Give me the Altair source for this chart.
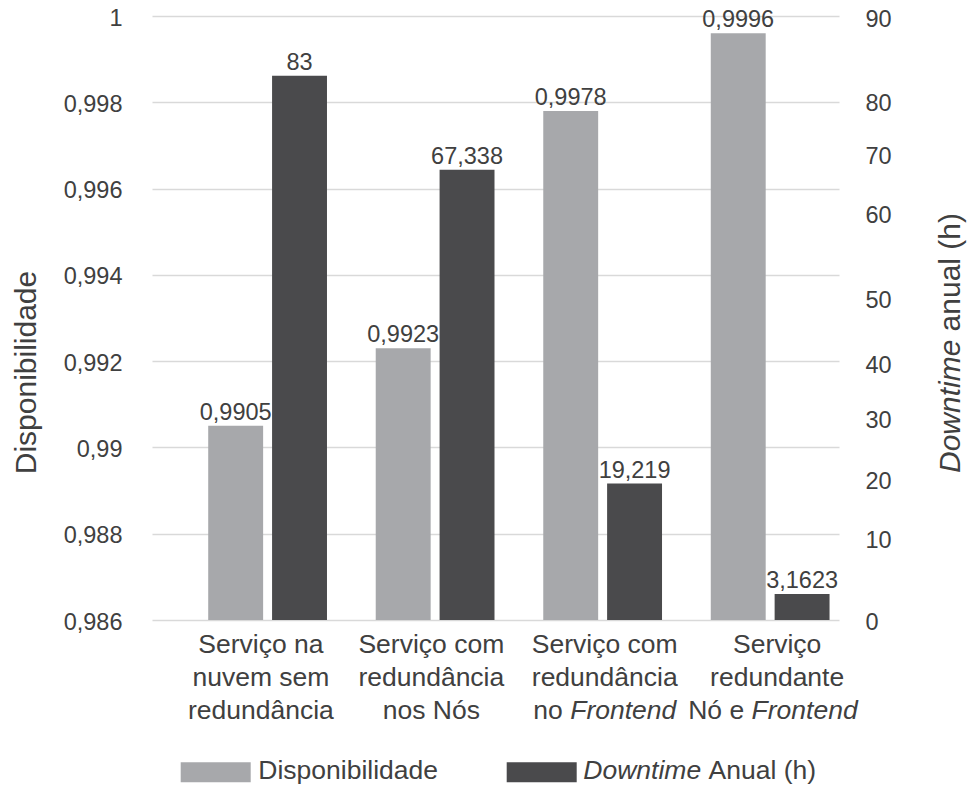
import altair as alt
import pandas as pd

# ---- data -------------------------------------------------------------
categorias = [
    "Serviço na nuvem sem redundância",
    "Serviço com redundância nos Nós",
    "Serviço com redundância no Frontend",
    "Serviço redundante Nó e Frontend",
]
series = ["Disponibilidade", "Downtime Anual (h)"]
disponibilidade = [0.9905, 0.9923, 0.9978, 0.9996]
downtime = [83, 67.338, 19.219, 3.1623]

ticks_disp = [0.986, 0.988, 0.99, 0.992, 0.994, 0.996, 0.998, 1]
ticks_down = [0, 10, 20, 30, 40, 50, 60, 70, 80, 90]

rotulos_x = [
    ["Serviço na", "nuvem sem", "redundância"],
    ["Serviço com", "redundância", "nos Nós"],
    ["Serviço com", "redundância"],
    ["Serviço", "redundante"],
]
# last line of the two right-hand labels mixes upright and italic words
rotulos_x_fim = [None, None, ("no", "Frontend"), ("Nó e", "Frontend")]

# ---- style ------------------------------------------------------------
FONT = "Liberation Sans"
TXT = "#404040"
CLARO = "#a7a8ab"
ESCURO = "#4a4a4c"
GRID = "#d9d9d9"

W, H = 687, 604
# pixel stops of the (non-uniform) right-hand axis, top of plot = 0
faixa_down = [604, 522, 463, 402, 347, 282, 197, 138, 85, 1]


def virgula(v):
    return str(v).replace(".", ",")


df_disp = pd.DataFrame({
    "categoria": categorias,
    "serie": series[0],
    "valor": disponibilidade,
    "rotulo": [virgula(v) for v in disponibilidade],
})
df_down = pd.DataFrame({
    "categoria": categorias,
    "serie": series[1],
    "valor": downtime,
    "rotulo": [virgula(v) for v in downtime],
})

x_enc = alt.X(
    "categoria:N",
    scale=alt.Scale(domain=categorias, paddingInner=0.291,
                    paddingOuter=0.196, align=0.856),
    axis=None,
)
xo_enc = alt.XOffset(
    "serie:N",
    scale=alt.Scale(domain=series, paddingInner=0.14, paddingOuter=0),
)
cor = alt.Color("serie:N", scale=alt.Scale(domain=series, range=[CLARO, ESCURO]),
                legend=None)

eixo_esq = alt.Axis(
    orient="left",
    values=ticks_disp,
    labelExpr="replace(format(datum.value, '.3~f'), '.', ',')",
    grid=True, gridColor=GRID, gridWidth=1.3,
    domain=False, ticks=False,
    labelPadding=30, labelFontSize=23.5, labelFont=FONT, labelColor=TXT,
    labelOffset=2,
    title="Disponibilidade", titleFont=FONT, titleFontSize=30,
    titleFontWeight="normal", titleColor=TXT,
    titleAngle=270, titleAlign="center", titleBaseline="alphabetic",
    titleX=-117, titleY=356,
)
eixo_dir = alt.Axis(
    orient="right",
    values=ticks_down,
    grid=False, domain=False, ticks=False,
    labelPadding=26, labelFontSize=23.5, labelFont=FONT, labelColor=TXT,
    labelOffset=2,
    title=None,
)

y_disp = alt.Y("valor:Q", scale=alt.Scale(domain=[0.986, 1], nice=False, zero=False),
               axis=eixo_esq)
y_down = alt.Y("valor:Q", scale=alt.Scale(domain=ticks_down, range=faixa_down,
                                          nice=False, zero=False),
               axis=eixo_dir)

texto_valor = dict(baseline="alphabetic", dy=-6, fontSize=23.5, font=FONT, color=TXT)

barras_disp = alt.Chart(df_disp).mark_bar().encode(
    x=x_enc, xOffset=xo_enc, y=y_disp, y2=alt.Y2(datum=0.986), color=cor)
valores_disp = alt.Chart(df_disp).mark_text(**texto_valor).encode(
    x=x_enc, xOffset=xo_enc, y=y_disp, text="rotulo:N")

barras_down = alt.Chart(df_down).mark_bar().encode(
    x=x_enc, xOffset=xo_enc, y=y_down, color=cor)
valores_down = alt.Chart(df_down).mark_text(**texto_valor).encode(
    x=x_enc, xOffset=xo_enc, y=y_down, text="rotulo:N")

camada_disp = alt.layer(barras_disp, valores_disp)
camada_down = alt.layer(barras_down, valores_down)

# ---- category labels under the plot ------------------------------------
LINHA = 33.3
Y_LINHA1 = 636.7
desloc_rotulo = [-6.7, -3.8, 2.1, 7.0]
desloc_fim = [None, None, (-39.9, -32.4), (-26.0, -18.6)]

extras = []
for cat, linhas, dx in zip(categorias, rotulos_x, desloc_rotulo):
    df_l = pd.DataFrame({"categoria": [cat], "texto": [linhas]})
    extras.append(
        alt.Chart(df_l).mark_text(
            align="center", baseline="alphabetic", lineHeight=LINHA, dx=dx,
            fontSize=26.5, font=FONT, color=TXT,
        ).encode(x=x_enc, y=alt.value(Y_LINHA1), text="texto:N")
    )

for cat, fim, dxs in zip(categorias, rotulos_x_fim, desloc_fim):
    if fim is None:
        continue
    df_f = pd.DataFrame({"categoria": [cat], "reto": [fim[0]], "italico": [fim[1]]})
    y3 = Y_LINHA1 + 2 * LINHA
    extras.append(
        alt.Chart(df_f).mark_text(
            align="right", baseline="alphabetic", dx=dxs[0],
            fontSize=26.5, font=FONT, color=TXT,
        ).encode(x=x_enc, y=alt.value(y3), text="reto:N")
    )
    extras.append(
        alt.Chart(df_f).mark_text(
            align="left", baseline="alphabetic", dx=dxs[1], fontStyle="italic",
            fontSize=26.5, font=FONT, color=TXT,
        ).encode(x=x_enc, y=alt.value(y3), text="italico:N")
    )

# ---- right axis title (italic + upright parts) -------------------------
df_um = pd.DataFrame({"k": [0]})
extras.append(
    alt.Chart(df_um).mark_text(
        text="Downtime", angle=270, align="left", baseline="alphabetic",
        fontStyle="italic", fontSize=30, font=FONT, color=TXT,
    ).encode(x=alt.value(808), y=alt.value(457))
)
extras.append(
    alt.Chart(df_um).mark_text(
        text="anual (h)", angle=270, align="right", baseline="alphabetic",
        fontSize=30, font=FONT, color=TXT,
    ).encode(x=alt.value(808), y=alt.value(197))
)

# ---- legend ------------------------------------------------------------
df_leg = pd.DataFrame({"serie": series})
for serie, x0 in zip(series, [28.7, 354.7]):
    extras.append(
        alt.Chart(df_leg).transform_filter(alt.datum.serie == serie).mark_rect().encode(
            x=alt.value(x0), x2=alt.value(x0 + 70),
            y=alt.value(746.3), y2=alt.value(766.3), color=cor,
        )
    )
leg_txt = dict(align="left", baseline="alphabetic", fontSize=26.5, font=FONT, color=TXT)
extras.append(
    alt.Chart(df_um).mark_text(text="Disponibilidade", **leg_txt).encode(
        x=alt.value(106.3), y=alt.value(763.3))
)
extras.append(
    alt.Chart(df_um).mark_text(text="Downtime", fontStyle="italic", **leg_txt).encode(
        x=alt.value(431.3), y=alt.value(763.3))
)
extras.append(
    alt.Chart(df_um).mark_text(text="Anual (h)", **leg_txt).encode(
        x=alt.value(556.5), y=alt.value(763.3))
)

chart = (
    alt.layer(camada_disp, camada_down, *extras)
    .resolve_scale(y="independent")
    .properties(
        width=W, height=H,
        autosize=alt.AutoSizeParams(type="none"),
        padding={"left": 152, "top": 16, "right": 129, "bottom": 167},
        background="white",
    )
    .configure_view(stroke=None)
)

chart.save("out.html", embed_options={"renderer": "svg", "actions": False})
